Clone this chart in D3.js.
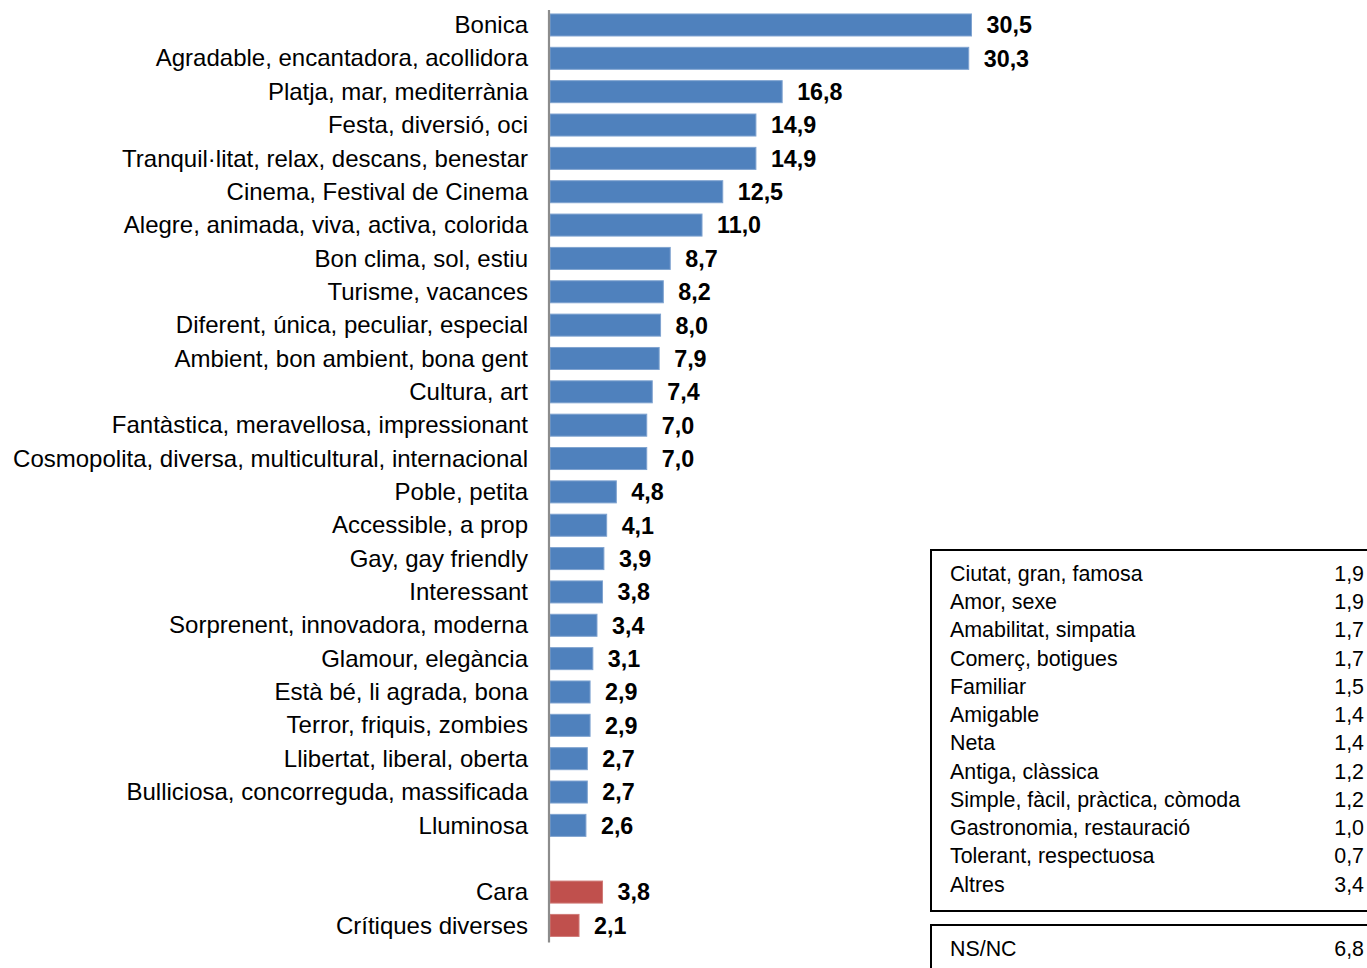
<!DOCTYPE html>
<html><head><meta charset="utf-8">
<script src="https://cdn.jsdelivr.net/npm/d3@7"></script>
<style>body{margin:0;background:#fff}svg{display:block}</style>
</head><body>
<script>
const categories = ["Bonica","Agradable, encantadora, acollidora","Platja, mar, mediterrània","Festa, diversió, oci","Tranquil·litat, relax, descans, benestar","Cinema, Festival de Cinema","Alegre, animada, viva, activa, colorida","Bon clima, sol, estiu","Turisme, vacances","Diferent, única, peculiar, especial","Ambient, bon ambient, bona gent","Cultura, art","Fantàstica, meravellosa, impressionant","Cosmopolita, diversa, multicultural, internacional","Poble, petita","Accessible, a prop","Gay, gay friendly","Interessant","Sorprenent, innovadora, moderna","Glamour, elegància","Està bé, li agrada, bona","Terror, friquis, zombies","Llibertat, liberal, oberta","Bulliciosa, concorreguda, massificada","Lluminosa"];
const values = [30.5,30.3,16.8,14.9,14.9,12.5,11.0,8.7,8.2,8.0,7.9,7.4,7.0,7.0,4.8,4.1,3.9,3.8,3.4,3.1,2.9,2.9,2.7,2.7,2.6];
const negCategories = ["Cara","Crítiques diverses"];
const negValues = [3.8,2.1];
const otherLabels = ["Ciutat, gran, famosa","Amor, sexe","Amabilitat, simpatia","Comerç, botigues","Familiar","Amigable","Neta","Antiga, clàssica","Simple, fàcil, pràctica, còmoda","Gastronomia, restauració","Tolerant, respectuosa","Altres"];
const otherValues = [1.9,1.9,1.7,1.7,1.5,1.4,1.4,1.2,1.2,1.0,0.7,3.4];
const nsLabel = "NS/NC";
const nsValue = 6.8;

const W = 1367, H = 968;
const svg = d3.select("body").append("svg").attr("width", W).attr("height", H);
const fmt = v => v.toFixed(1).replace(".", ",");
const FONT = "'Liberation Sans', Arial, sans-serif";

const rows = categories.map((c,i)=>({key:c, v:values[i], col:"#4F81BD"}))
  .concat([{key:"__gap", v:0, col:"none"}])
  .concat(negCategories.map((c,i)=>({key:c, v:negValues[i], col:"#C0504D"})));

const x0 = 550;
const x = d3.scaleLinear().domain([0, 30.5]).range([x0, 971.5]);
const y = d3.scaleBand().domain(rows.map(r=>r.key)).range([8.3, 942.1]).paddingInner(0.34).paddingOuter(0.17);

const g = svg.append("g");
g.selectAll("rect.bar").data(rows.filter(r=>r.key!=="__gap")).join("rect")
  .attr("class","bar")
  .attr("x", x0).attr("y", d=>y(d.key))
  .attr("width", d=>x(d.v)-x0).attr("height", y.bandwidth())
  .attr("fill", d=>d.col)
  .attr("stroke", d=>d.col==="#4F81BD" ? "#7FA3D0" : "#D07A77").attr("stroke-width", 1);

g.selectAll("text.val").data(rows.filter(r=>r.key!=="__gap")).join("text")
  .attr("x", d=>x(d.v)+15).attr("y", d=>y(d.key)+y.bandwidth()/2)
  .attr("dy","0.36em")
  .attr("font-family",FONT)
  .attr("font-size", 23.3).attr("font-weight","bold").attr("fill","#000")
  .text(d=>fmt(d.v));

const axis = d3.axisLeft(y).tickSize(0).tickPadding(21).tickFormat(d=>d==="__gap"?"":d);
const ax = svg.append("g").attr("transform", `translate(${x0-1},0)`).call(axis);
ax.select(".domain").attr("stroke","#8C8C8C").attr("stroke-width",2.2).attr("d","M0,10V942.5");
ax.selectAll("text").attr("font-family",FONT).attr("font-size",24).attr("fill","#000").attr("dy","0.34em");

// table box
const bx = 931, by = 550, bw = 440, bh = 361;
svg.append("rect").attr("x",bx).attr("y",by).attr("width",bw).attr("height",bh)
  .attr("fill","none").attr("stroke","#000").attr("stroke-width",2);
const ty = d3.scalePoint().domain(otherLabels).range([573, 884]);
const tg = svg.append("g").attr("font-family",FONT).attr("font-size",21.4).attr("fill","#000");
tg.selectAll("text.l").data(otherLabels).join("text").attr("x",950).attr("y",d=>ty(d)).attr("dy","0.36em").text(d=>d);
tg.selectAll("text.v").data(otherValues).join("text").attr("x",1364).attr("text-anchor","end")
  .attr("y",(d,i)=>ty(otherLabels[i])).attr("dy","0.36em").text(d=>fmt(d));

svg.append("rect").attr("x",bx).attr("y",925).attr("width",bw).attr("height",60)
  .attr("fill","none").attr("stroke","#000").attr("stroke-width",2);
tg.append("text").attr("x",950).attr("y",948).attr("dy","0.36em").text(nsLabel);
tg.append("text").attr("x",1364).attr("y",948).attr("dy","0.36em").attr("text-anchor","end").text(fmt(nsValue));
</script>
</body></html>
